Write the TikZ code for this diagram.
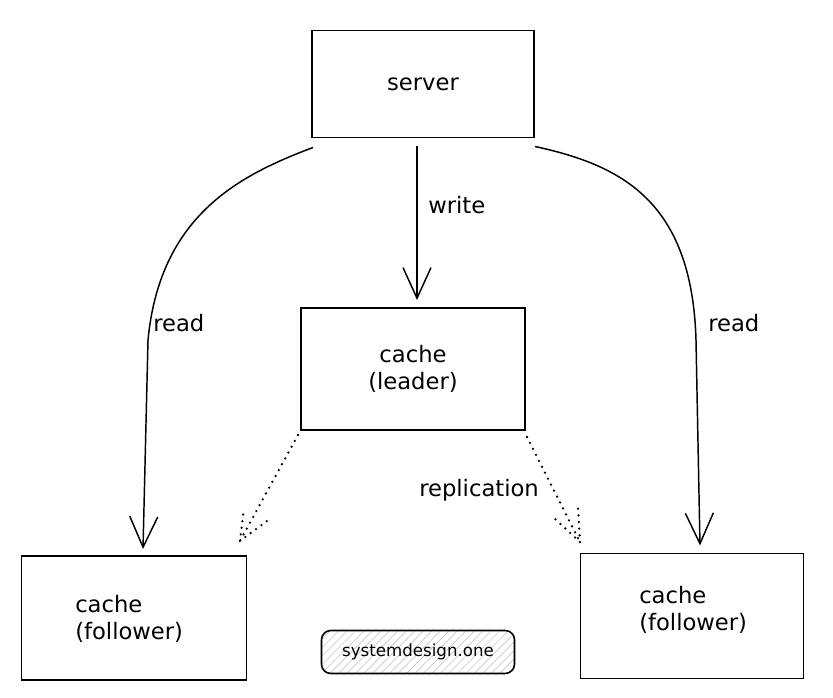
\documentclass[tikz,border=0pt]{standalone}
\usepackage{fontspec}
\setmainfont{DejaVu Sans}
\usetikzlibrary{arrows.meta,patterns.meta}

\begin{document}
\begin{tikzpicture}[x=0.75pt,y=0.75pt,yscale=-1,xscale=1,
        box/.style={draw, line width=1.3pt, outer sep=0pt, align=center, font=\fontsize{17}{20}\selectfont},
        lbl/.style={inner sep=0.75pt, font=\fontsize{17}{20}\selectfont},
        arr/.style={line width=1.1pt, -{Straight Barb[length=23pt,width=21pt,line width=1.1pt]}},
        dotline/.style={line width=1.9pt, line cap=round, dash pattern=on 0pt off 5pt}]
        \useasboundingbox (0,0) rectangle (833,698);
        
        %Shape: Rectangle [id:server] 
        \node [box, minimum width=166.5pt, minimum height=80.25pt] (server) at (423,84) {server};
        %Shape: Rectangle [id:leader] 
        \node [box, minimum width=168pt, minimum height=91.5pt] (leader) at (413,369) {cache\\(leader)};
        %Shape: Rectangle [id:followerl] 
        \node [box, minimum width=168.75pt, minimum height=93pt] (followerl) at (134,618) {};
        %Shape: Rectangle [id:followerr] 
        \node [box, minimum width=167.25pt, minimum height=93.75pt] (followerr) at (692,616) {};
        %Shape: Rounded Rectangle [id:badge] 
        \node [draw, line width=1.2pt, rounded corners=7pt, pattern={Lines[angle=45,distance=4.5pt,line width=0.5pt]}, pattern color=black!22, minimum width=144.75pt, minimum height=32.25pt, font=\fontsize{12.5}{15}\selectfont] (badge) at (418,652) {systemdesign.one};
        
        %Straight Lines [id:write] 
        \draw [arr] ([xshift=-4.5pt,yshift=6.75pt]server.south) -- ([xshift=3pt,yshift=-6pt]leader.north) ;
        %Curve Lines [id:readl] 
        \draw [arr] ([xshift=0.75pt,yshift=7.5pt]server.south west) .. controls (240,175) and (160,215) .. (148,340) -- ([xshift=6.75pt,yshift=-5.25pt]followerl.north) ;
        %Curve Lines [id:readr] 
        \draw [arr] ([xshift=0.75pt,yshift=6.75pt]server.south east) .. controls (620,165) and (692,200) .. (696,340) -- ([xshift=6pt,yshift=-6pt]followerr.north) ;
        %Dotted Lines [id:repl] 
        \draw [dotline] ([xshift=-2.25pt,yshift=3.75pt]leader.south west) -- ([xshift=-4.9pt,yshift=-11.25pt]followerl.north east) coordinate (tipl) ;
        \draw [dotline] (tipl) -- ++(4,-33) (tipl) -- ++(27,-20) ;
        %Dotted Lines [id:repr] 
        \draw [dotline] ([xshift=1.5pt,yshift=5.25pt]leader.south east) -- ([xshift=-0.4pt,yshift=-8.6pt]followerr.north west) coordinate (tipr) ;
        \draw [dotline] (tipr) -- ++(-27,-25) (tipr) -- ++(-2,-37) ;
        
        % Text Node
        \node [lbl, anchor=west] (lwrite) at (427,205) {write};
        % Text Node
        \node [lbl, anchor=west] (lreadl) at (152,323) {read};
        % Text Node
        \node [lbl, anchor=west] (lreadr) at (707,323) {read};
        % Text Node
        \node [lbl, anchor=west] (lrepl) at (418,490) {replication};
        % Text Node
        \node [lbl, anchor=west, align=left] (tfollowerl) at (74,619) {cache\\(follower)};
        % Text Node
        \node [lbl, anchor=west, align=left] (tfollowerr) at (638,610) {cache\\(follower)};
        
\end{tikzpicture}
\end{document}
